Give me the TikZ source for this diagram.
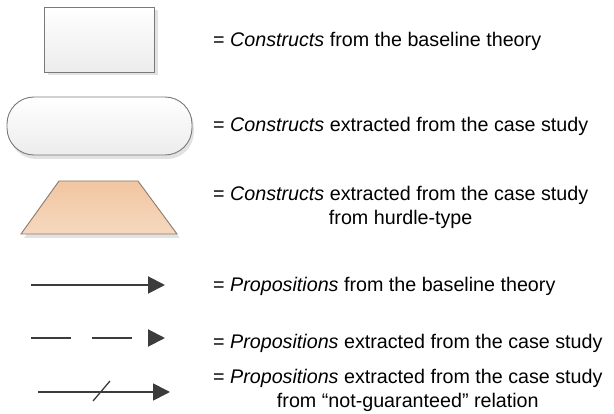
\documentclass[tikz,border=0pt]{standalone}
\usepackage{fontspec}
\setmainfont{Liberation Sans}
\usetikzlibrary{arrows.meta}
\definecolor{edgegray}{HTML}{7A7A7A}
\definecolor{boxbottom}{HTML}{ECECEC}
\definecolor{shadowgray}{HTML}{E2E2E2}
\definecolor{peachtop}{HTML}{F1C6A1}
\definecolor{peachbottom}{HTML}{F6D8BF}
\definecolor{peachedge}{HTML}{8C7A6C}
\definecolor{arrowgray}{HTML}{3C3C3C}
\begin{document}
\begin{tikzpicture}[x=1pt,y=-1pt,
  legendtext/.style={anchor=west, inner sep=0pt, align=center,
    font=\fontsize{19.7}{24}\selectfont},
  theorybox/.style={draw=edgegray, line width=0.9pt, top color=white,
    bottom color=boxbottom, minimum width=110pt, minimum height=65pt},
  casebox/.style={draw=edgegray, line width=0.9pt, top color=white,
    bottom color=boxbottom, rounded corners=27pt,
    minimum width=185pt, minimum height=58pt},
  hurdlebox/.style={draw=peachedge, line width=0.9pt, top color=peachtop,
    bottom color=peachbottom},
  shadowbox/.style={fill=shadowgray, draw=none},
  link/.style={draw=arrowgray, line width=2pt,
    -{Triangle[length=17pt,width=17pt]}},
]
\useasboundingbox (0,0) rectangle (614,414);

% construct shapes with soft drop shadows
\node[shadowbox, minimum width=110pt, minimum height=65pt] at (102.5,42.5) {};
\node[theorybox] (theory) at (99,39.5) {};

\node[shadowbox, rounded corners=27pt, minimum width=185pt, minimum height=58pt]
  at (101.5,130) {};
\node[casebox] (case) at (99.5,126) {};

% hurdle-type trapezium
\fill[shadowgray] (63,185) -- (140,185) -- (180,238) -- (24,238) -- cycle;
\draw[hurdlebox] (59,181) -- (138,181) -- (177,234) -- (21,234) -- cycle;

% proposition connectors
\coordinate (s1) at (31,285);  \coordinate (e1) at (165,285);
\coordinate (s2) at (31,338);  \coordinate (e2) at (165,338);
\coordinate (s3) at (38,392);  \coordinate (e3) at (170,392);
\coordinate (c1) at (93,401);  \coordinate (c2) at (110,381);

\draw[link] (s1) -- (e1);
\draw[link, dash pattern=on 40pt off 21pt] (s2) -- (e2);
\draw[link, line width=1.7pt] (s3) -- (e3);
\draw[draw=arrowgray, line width=1.3pt] (c1) -- (c2);

% legend texts
\node[legendtext] (t1) at (213,41) {= \textit{Constructs} from the baseline theory};
\node[legendtext] (t2) at (213,126) {= \textit{Constructs} extracted from the case study};
\node[legendtext] (t3) at (213,207) {= \textit{Constructs} extracted from the case study\\from hurdle-type};
\node[legendtext] (t4) at (213,286) {= \textit{Propositions} from the baseline theory};
\node[legendtext] (t5) at (213,343) {= \textit{Propositions} extracted from the case study};
\node[legendtext] (t6) at (213,390) {= \textit{Propositions} extracted from the case study\\from “not-guaranteed” relation};
\end{tikzpicture}
\end{document}
